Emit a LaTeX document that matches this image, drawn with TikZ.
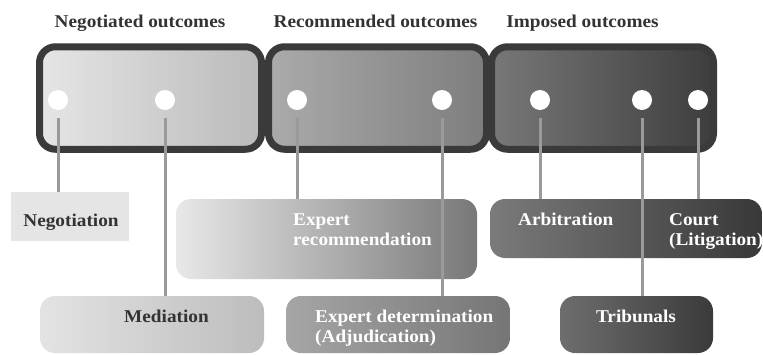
\documentclass[tikz,border=0pt]{standalone}
\usepackage{fontspec}
\setmainfont[FakeStretch=1.07]{Liberation Serif}
\definecolor{txt}{HTML}{333333}
\definecolor{frame}{HTML}{3A3A3A}
\definecolor{conn}{HTML}{9A9A9A}
\begin{document}
\begin{tikzpicture}[x=1pt,y=-1pt,
  every node/.style={font=\fontsize{18}{20.5}\selectfont\bfseries},
  topbox/.style={draw=frame, line width=7pt, rounded corners=16pt, inner sep=0pt},
  subbox/.style={rounded corners=15pt, inner sep=0pt},
  dot/.style={circle, fill=white, minimum size=20pt, inner sep=0pt},
  connline/.style={draw=conn, line width=3pt},
  dark/.style={text=txt, inner sep=0pt},
  light/.style={text=white, inner sep=0pt, align=left}]
\useasboundingbox[fill=white] (0,0) rectangle (763,354);
% titles
\node[dark, anchor=base] (t1) at (140,27) {Negotiated outcomes};
\node[dark, anchor=base] (t2) at (375.5,27) {Recommended outcomes};
\node[dark, anchor=base] (t3) at (582.5,27) {Imposed outcomes};
% top boxes
\node[topbox, left color=white!90!black, right color=white!73!black, minimum width=222pt, minimum height=102.5pt] (b1) at (150.5,98) {};
\node[topbox, left color=white!47!black, right color=white!24!black, minimum width=222pt, minimum height=102.5pt] (b3) at (602.5,98) {};
\node[topbox, left color=white!67!black, right color=white!49!black, minimum width=218pt, minimum height=102.5pt] (b2) at (377.5,98) {};
% dots
\node[dot] (d1) at (58,100) {};
\node[dot] (d2) at (165,100) {};
\node[dot] (d3) at (297,100) {};
\node[dot] (d4) at (442,100) {};
\node[dot] (d5) at (540,100) {};
\node[dot] (d6) at (642,100) {};
\node[dot] (d7) at (698,100) {};
% lower boxes
\node[fill=white!90!black, inner sep=0pt, minimum width=118pt, minimum height=49pt] (neg) at (70,216.5) {};
\node[subbox, left color=white!91!black, right color=white!47!black, minimum width=301pt, minimum height=80pt] (exrec) at (326.5,239) {};
\node[subbox, left color=white!89!black, right color=white!74!black, minimum width=224pt, minimum height=57pt] (med) at (152,324.5) {};
\node[subbox, left color=white!65!black, right color=white!46!black, minimum width=224pt, minimum height=57pt] (exdet) at (398,324.5) {};
\node[subbox, left color=white!48!black, right color=white!22!black, minimum width=272pt, minimum height=59pt] (arb) at (626,228.5) {};
\node[subbox, left color=white!43!black, right color=white!23!black, minimum width=153pt, minimum height=57pt] (trib) at (636.5,324.5) {};
% connectors
\draw[connline] ([yshift=-8pt]d1.south) -- (d1 |- neg.north);
\draw[connline] ([yshift=-8pt]d2.south) -- (d2 |- med.north);
\draw[connline] ([yshift=-8pt]d3.south) -- (d3 |- exrec.north);
\draw[connline] ([yshift=-8pt]d4.south) -- (d4 |- exdet.north);
\draw[connline] ([yshift=-8pt]d5.south) -- (d5 |- arb.north);
\draw[connline] ([yshift=-8pt]d6.south) -- (d6 |- trib.north);
\draw[connline] ([yshift=-8pt]d7.south) -- (d7 |- arb.north);
% labels
\node[dark, anchor=base] (lneg) at (71,226) {Negotiation};
\node[dark, anchor=base] (lmed) at (166.5,322) {Mediation};
\node[light, anchor=base west] (lrec) at (293,245.5) {Expert\\recommendation};
\node[light, anchor=base west] (ldet) at (315,342.5) {Expert determination\\(Adjudication)};
\node[light, anchor=base west] (larb) at (518,225) {Arbitration};
\node[light, anchor=base west] (lcourt) at (669,245.5) {Court\\(Litigation)};
\node[light, anchor=base] (ltrib) at (636,322) {Tribunals};
\end{tikzpicture}
\end{document}
